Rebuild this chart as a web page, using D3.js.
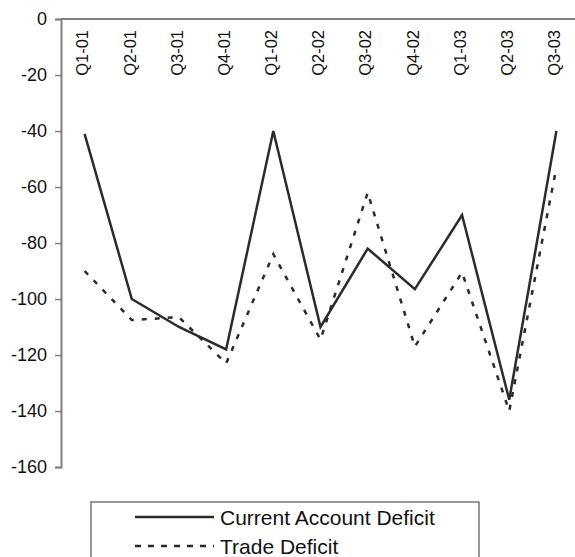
<!DOCTYPE html>
<html>
<head>
<meta charset="utf-8">
<script src="https://cdn.jsdelivr.net/npm/d3@7"></script>
<style>
  html, body { margin: 0; padding: 0; background: #fff; }
  svg { display: block; font-family: Arial, "Liberation Sans", sans-serif; }
</style>
</head>
<body>
<svg id="chart" width="575" height="557"></svg>
<script>
// Quarterly deficits (billions), Q1 2001 – Q3 2003
const quarters = ["Q1-01", "Q2-01", "Q3-01", "Q4-01", "Q1-02", "Q2-02",
                  "Q3-02", "Q4-02", "Q1-03", "Q2-03", "Q3-03"];
const currentAccountDeficit = [-41, -100, -110, -118, -40, -110, -82, -96.5, -70, -136, -40];
const tradeDeficit = [-90, -107.5, -106.5, -123, -84, -114.5, -62, -117, -90.5, -140, -53];
const yTicks = [0, -20, -40, -60, -80, -100, -120, -140, -160];
const seriesNames = ["Current Account Deficit", "Trade Deficit"];

const svg = d3.select("#chart");
const axisColor = "#808080";
const lineColor = "#2b2b2b";
const dash = "5,8";

const x = d3.scaleBand().domain(quarters).range([61, 580]);
const y = d3.scaleLinear().domain([-160, 0]).range([467, 19]);
const cx = q => x(q) + x.bandwidth() / 2;

// Y axis (left side), plain hyphen for negatives
const yAxis = d3.axisLeft(y).tickValues(yTicks).tickSize(6).tickPadding(8)
  .tickFormat(d => String(d));
const gy = svg.append("g").attr("transform", "translate(61,0)").call(yAxis);
gy.select(".domain").attr("stroke", axisColor).attr("stroke-width", 2);
gy.selectAll(".tick line").attr("stroke", axisColor).attr("stroke-width", 1.5);
gy.selectAll(".tick text").attr("fill", "#111").style("font-size", "18px")
  .style("font-family", "Arial, 'Liberation Sans', sans-serif");

// Category axis along the zero line
svg.append("line")
  .attr("x1", 61).attr("x2", 580)
  .attr("y1", y(0)).attr("y2", y(0))
  .attr("stroke", axisColor).attr("stroke-width", 2);

svg.append("g").selectAll("text")
  .data(quarters)
  .join("text")
  .attr("transform", d => `translate(${cx(d) - 2},${y(0) + 11}) rotate(-90)`)
  .attr("text-anchor", "end")
  .attr("dy", "0.35em")
  .attr("fill", "#111")
  .style("font-size", "16.5px")
  .text(d => d);

// Series lines
const line = d3.line()
  .x((d, i) => cx(quarters[i]))
  .y(d => y(d));

svg.append("path")
  .datum(tradeDeficit)
  .attr("d", line)
  .attr("fill", "none")
  .attr("stroke", lineColor)
  .attr("stroke-width", 2.5)
  .attr("stroke-dasharray", dash);

svg.append("path")
  .datum(currentAccountDeficit)
  .attr("d", line)
  .attr("fill", "none")
  .attr("stroke", lineColor)
  .attr("stroke-width", 2.5)
  .attr("stroke-linejoin", "miter");

// Legend
const legend = svg.append("g");
legend.append("rect")
  .attr("x", 91).attr("y", 502)
  .attr("width", 388).attr("height", 80)
  .attr("fill", "#fff")
  .attr("stroke", "#555").attr("stroke-width", 1.2);

const rows = [
  { name: seriesNames[0], dashArr: null, ly: 517 },
  { name: seriesNames[1], dashArr: "6,7", ly: 546 }
];
rows.forEach(r => {
  legend.append("line")
    .attr("x1", 135).attr("x2", 214)
    .attr("y1", r.ly).attr("y2", r.ly)
    .attr("stroke", lineColor).attr("stroke-width", 2.5)
    .attr("stroke-dasharray", r.dashArr);
  legend.append("text")
    .attr("x", 220).attr("y", r.ly)
    .attr("dy", "0.36em")
    .attr("fill", "#111")
    .style("font-size", "21px")
    .text(r.name);
});
</script>
</body>
</html>
